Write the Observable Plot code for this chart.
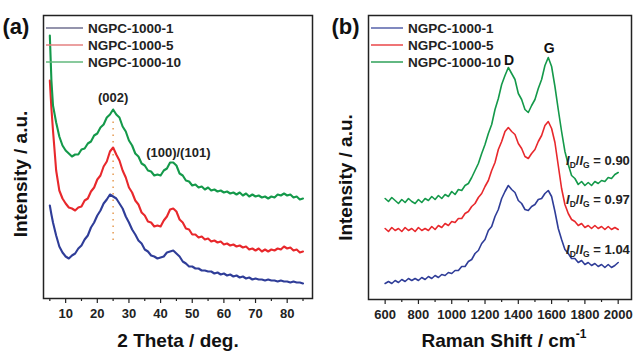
<!DOCTYPE html>
<html><head><meta charset="utf-8">
<script src="https://cdn.jsdelivr.net/npm/d3@7"></script>
<script src="https://cdn.jsdelivr.net/npm/@observablehq/plot@0.6"></script>
<style>
body{margin:0;background:#fff;}
#wrap{position:relative;display:flex;width:633px;height:352px;overflow:hidden;background:#fff;}
svg{display:block}
#wrap svg text{font-weight:bold;}
.box{position:absolute;box-sizing:border-box;border:1.5px solid #222;pointer-events:none;}
</style></head><body><div id="wrap"></div>
<script>
// ---------- shared ----------
const samples = ["NGPC-1000-1", "NGPC-1000-5", "NGPC-1000-10"];
const lineColors = ["#2f3d98", "#e8282c", "#14994a"];
const legendColorsA = ["#707090", "#e48080", "#62b87c"];
const legendColorsB = ["#4a56a4", "#e8383c", "#1f9a4c"];
const FONT = "'Liberation Sans', Arial, Helvetica, sans-serif";

// ---------- (a) XRD ----------
const xrdTheta = [5, 5.5].concat(d3.range(6, 86));
const xrdBlue = [93,84,76,63,52,46,42,40,43,45,50,53,59,63,71,76,83,88,95,99,104,102,100,95,90,82,76,69,64,58,55,49,47,43,42,40,41,42,46,47,48,45,42,37,35,32,32,30,30,28,28,27,27,25,26,24,25,23,24,22,23,21,22,20,21,19,20,19,19,18,19,18,18,17,18,17,17,16,17,16,16,15];
const xrdRed = [218,190,168,128,108,100,95,91,90,88,91,92,98,100,107,111,119,123,132,137,147,151,144,138,128,121,111,106,98,94,86,83,77,76,72,73,72,78,82,89,90,87,79,76,70,69,64,64,61,62,59,60,57,58,56,57,54,55,53,54,52,53,51,52,49,50,48,50,47,49,47,49,48,50,49,52,50,51,48,49,46,47];
const xrdGreen = [263,218,193,176,162,153,148,145,142,144,144,149,150,155,157,163,165,171,174,181,184,189,184,181,172,167,158,153,145,142,135,133,128,127,123,124,123,128,130,136,136,133,125,123,118,117,113,114,111,112,109,111,108,109,107,108,106,107,105,106,104,106,103,105,102,104,102,103,101,102,100,102,101,104,103,105,103,104,101,102,99,100];
const xrdDomain = [3, 88];
const xrdYDomain = [0, 283];
const xrdTicks = [10, 20, 30, 40, 50, 60, 70, 80];
const xrdMinorTicks = [5, 15, 25, 35, 45, 55, 65, 75, 85];
const xrdPeakLabels = ["(002)", "(100)/(101)"];
const xrdPeakX = [25, 45.6];
const xrdPeakY = [201, 146];
const xrdGuideX = [25];
const xrdGuideY = [58, 180];

// ---------- (b) Raman ----------
const ramanShift = d3.range(600, 2001, 20);
const ramanBlue = [16,18,16,19,17,20,18,21,19,21,19,22,20,23,21,24,22,25,24,27,
  26,29,29,33,33,38,40,46,49,56,60,69,73,83,90,101,108,114,110,107,
  99,96,90,89,93,95,100,101,106,109,103,88,71,60,50,46,41,41,37,39,
  35,37,34,36,33,35,32,35,32,34,37];
const ramanRed = [71,68,72,69,71,68,72,69,71,68,72,69,71,69,73,70,74,72,76,74,
  78,77,81,81,86,88,93,96,102,106,113,119,129,137,150,158,168,172,168,165,
  156,151,143,141,146,150,158,164,174,178,171,157,134,111,95,86,80,78,74,76,
  72,74,71,74,71,73,70,73,70,72,70];
const ramanGreen = [101,98,102,99,96,100,97,101,98,96,100,97,101,99,103,100,104,101,105,103,
  108,105,110,109,114,116,122,129,136,146,155,166,175,190,201,215,224,232,226,220,
  206,200,190,187,194,200,211,220,234,242,233,213,190,168,148,135,124,121,115,118,
  114,117,114,118,116,119,118,122,121,125,127];
const ramanDomain = [500, 2080];
const ramanYDomain = [0, 284];
const ramanTicks = [600, 800, 1000, 1200, 1400, 1600, 1800, 2000];
const ramanMinorTicks = [700, 900, 1100, 1300, 1500, 1700, 1900];
const bandLabels = ["D", "G"];
const bandX = [1345, 1585];
const bandY = [239, 251];
const ratioValues = ["0.90", "0.97", "1.04"];
const ratioX = [1690, 1690, 1690];
const ratioY = [139, 100, 50];

function toRows(xs, seriesList) {
  const rows = [];
  seriesList.forEach((vals, k) => vals.forEach((v, i) => rows.push({x: xs[i], y: v, s: samples[k]})));
  return rows;
}
const xrdRows = toRows(xrdTheta, [xrdBlue, xrdRed, xrdGreen]);
const ramanRows = toRows(ramanShift, [ramanBlue, ramanRed, ramanGreen]);

function axisMarks(major, minor) {
  return [
    Plot.axisX({ticks: minor, tickSize: 3, tickFormat: () => "", label: null, stroke: "#222", strokeWidth: 1.2}),
    Plot.axisX({ticks: major, tickSize: 5, tickPadding: 5, label: null, fontSize: 13, fontWeight: "bold", fill: "#222", stroke: "#222", strokeWidth: 1.2, tickFormat: d => String(d)})
  ];
}
const T = {text: d => d, fontWeight: "bold", fill: "#111"};

// ---------- build (a) ----------
const plotA = Plot.plot({
  width: 316, height: 352,
  marginLeft: 43, marginRight: 4, marginTop: 15, marginBottom: 54,
  style: {fontFamily: FONT, background: "#fff", color: "#222"},
  x: {domain: xrdDomain},
  y: {domain: xrdYDomain, axis: null},
  color: {domain: samples, range: lineColors},
  marks: [
    ...axisMarks(xrdTicks, xrdMinorTicks),
    Plot.ruleX(xrdGuideX, {x: d => d, y1: xrdGuideY[0], y2: xrdGuideY[1], stroke: "#e8a05c", strokeWidth: 1.6, strokeDasharray: "1.5,5"}),
    Plot.line(xrdRows, {x: "x", y: "y", z: "s", stroke: "s", strokeWidth: 2.1}),
    Plot.frame({stroke: "#222", strokeWidth: 1.5}),
    Plot.text(xrdPeakLabels, {...T, x: (d, i) => xrdPeakX[i], y: (d, i) => xrdPeakY[i], fontSize: 13, fill: "#222"}),
    Plot.text(["(a)"], {...T, frameAnchor: "top-left", dx: -41, dy: 11, textAnchor: "start", lineAnchor: "middle", fontSize: 22}),
    Plot.text(["Intensity / a.u."], {...T, frameAnchor: "left", dx: -23, dy: 17, rotate: -90, textAnchor: "middle", lineAnchor: "middle", fontSize: 19}),
    Plot.text(["2 Theta / deg."], {...T, frameAnchor: "bottom", dy: 42, textAnchor: "middle", lineAnchor: "middle", fontSize: 19})
  ]
});

// ---------- build (b) ----------
const plotB = Plot.plot({
  width: 317, height: 352,
  marginLeft: 52, marginRight: 2, marginTop: 15, marginBottom: 53,
  style: {fontFamily: FONT, background: "#fff", color: "#222"},
  x: {domain: ramanDomain},
  y: {domain: ramanYDomain, axis: null},
  color: {domain: samples, range: lineColors},
  marks: [
    ...axisMarks(ramanTicks, ramanMinorTicks),
    Plot.line(ramanRows, {x: "x", y: "y", z: "s", stroke: "s", strokeWidth: 1.6}),
    Plot.frame({stroke: "#222", strokeWidth: 1.5}),
    Plot.text(bandLabels, {...T, x: (d, i) => bandX[i], y: (d, i) => bandY[i], fontSize: 14}),
    Plot.text(["(b)"], {...T, frameAnchor: "top-left", dx: -37, dy: 11, textAnchor: "start", lineAnchor: "middle", fontSize: 22}),
    Plot.text(["Intensity / a.u."], {...T, frameAnchor: "left", dx: -23, dy: 20, rotate: -90, textAnchor: "middle", lineAnchor: "middle", fontSize: 19})
  ]
});

const wrap = document.getElementById("wrap");
wrap.appendChild(plotA);
wrap.appendChild(plotB);

function scaleFns(p) {
  const sx = p.scale("x"), sy = p.scale("y");
  return [
    sx.apply ? (v => sx.apply(v)) : d3.scaleLinear(sx.domain, sx.range),
    sy.apply ? (v => sy.apply(v)) : d3.scaleLinear(sy.domain, sy.range)
  ];
}
// backup outline of each frame, placed from the plot's own scales
function box(p, xd, yd) {
  const [fx, fy] = scaleFns(p);
  const ox = p.getBoundingClientRect().left - wrap.getBoundingClientRect().left;
  const x0 = fx(xd[0]) + 0.5, x1 = fx(xd[1]) + 0.5, y0 = fy(yd[1]) + 0.5, y1 = fy(yd[0]) + 0.5;
  const d = document.createElement("div");
  d.className = "box";
  d.style.left = (ox + x0 - 0.75) + "px";
  d.style.top = (y0 - 0.75) + "px";
  d.style.width = (x1 - x0 + 1.5) + "px";
  d.style.height = (y1 - y0 + 1.5) + "px";
  wrap.appendChild(d);
}
box(plotA, xrdDomain, xrdYDomain);
box(plotB, ramanDomain, ramanYDomain);

// legends
function legend(svgEl, x0, x1, tx, colors) {
  const g = d3.select(svgEl).append("g").attr("font-family", FONT).attr("text-anchor", "start");
  samples.forEach((s, i) => {
    const y = 28 + i * 17;
    g.append("line").attr("x1", x0).attr("x2", x1).attr("y1", y).attr("y2", y)
      .attr("stroke", colors[i]).attr("stroke-width", 1.4);
    g.append("text").attr("x", tx).attr("y", y + 4.6).attr("font-size", 13.5)
      .attr("text-anchor", "start").attr("font-weight", "bold").attr("fill", "#222").text(s);
  });
}
legend(plotA, 46, 83, 88, legendColorsA);
legend(plotB, 55, 87, 92, legendColorsB);

// Raman axis title with superscript
const gb = d3.select(plotB).append("g").attr("font-family", FONT).attr("fill", "#111").attr("font-weight", "bold");
const tt = gb.append("text").attr("x", 188).attr("y", 347).attr("text-anchor", "middle").attr("font-size", 19);
tt.append("tspan").text("Raman Shift / cm");
tt.append("tspan").attr("dy", -9).attr("font-size", 12).text("-1");

// I_D/I_G labels
const [fxB, fyB] = scaleFns(plotB);
ratioValues.forEach((r, i) => {
  const t = gb.append("text").attr("x", fxB(ratioX[i])).attr("y", fyB(ratioY[i]) + 4.6)
    .attr("text-anchor", "start").attr("font-size", 13).attr("fill", "#222");
  t.append("tspan").attr("font-style", "italic").text("I");
  t.append("tspan").attr("font-size", 8.5).attr("dy", 3).text("D");
  t.append("tspan").attr("dy", -3).text("/");
  t.append("tspan").attr("font-style", "italic").text("I");
  t.append("tspan").attr("font-size", 8.5).attr("dy", 3).text("G");
  t.append("tspan").attr("dy", -3).text(" = " + r);
});
</script></body></html>
